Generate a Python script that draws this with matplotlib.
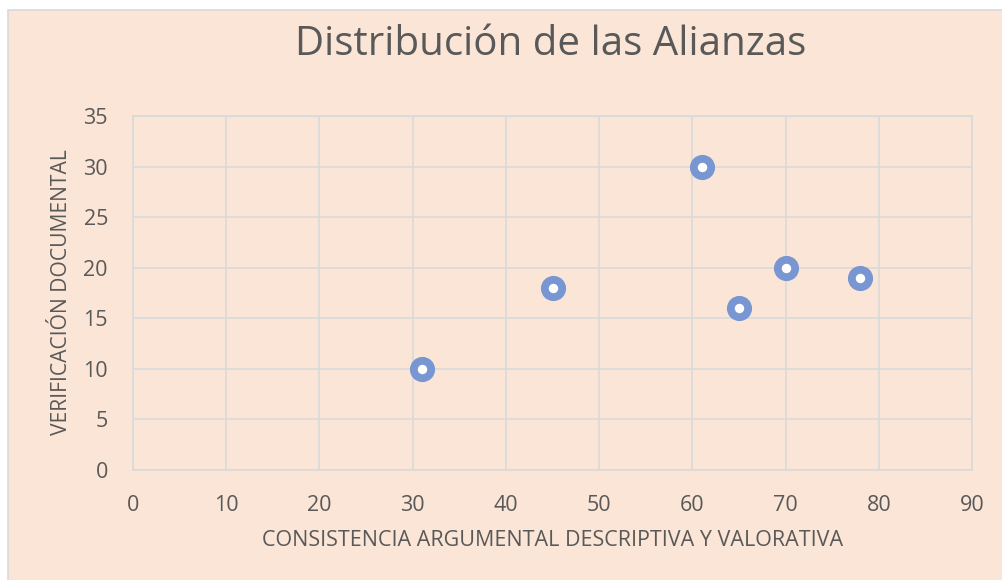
import matplotlib
matplotlib.use("Agg")
import matplotlib.pyplot as plt
from matplotlib.patches import Rectangle

x_vals = [31, 45, 61, 65, 70, 78]
y_vals = [10, 18, 30, 16, 20, 19]
x_ticks = [0, 10, 20, 30, 40, 50, 60, 70, 80, 90]
y_ticks = [0, 5, 10, 15, 20, 25, 30, 35]
title = "Distribución de las Alianzas"
xlabel = "CONSISTENCIA ARGUMENTAL DESCRIPTIVA Y VALORATIVA"
ylabel = "VERIFICACIÓN DOCUMENTAL"

plt.rcParams['font.family'] = ['Open Sans', 'DejaVu Sans']
W, H = 1002, 580
fig = plt.figure(figsize=(W/100, H/100), dpi=100, facecolor='white')
bg = '#FBE5D6'
frame = Rectangle((8/W, -0.1), 1.2, 1.1 - 10/H, transform=fig.transFigure,
                  facecolor=bg, edgecolor='#D9D9D9', linewidth=1.2, zorder=-10)
fig.add_artist(frame)

ax = fig.add_axes([133/W, 1 - 470/H, (972-133)/W, (470-116)/H])
ax.set_zorder(5)
ax.patch.set_alpha(0)
ax.set_xlim(0, 90)
ax.set_ylim(0, 35)
ax.set_xticks(x_ticks)
ax.set_yticks(y_ticks)
ax.grid(True, color='#D9D9D9', linewidth=1.2)
ax.set_axisbelow(True)
for s in ax.spines.values():
    s.set_color('#D9D9D9')
    s.set_linewidth(1.2)
ax.tick_params(axis='both', which='major', length=0, labelsize=15.5,
               labelcolor='#595959', pad=18)

ax.plot(x_vals, y_vals, linestyle='none', marker='o', markersize=12.5,
        markerfacecolor='white', markeredgecolor='#7896D2', markeredgewidth=5.6, zorder=3)

fig.text(551/W, 1 - 45/H, title, ha='center', va='center', fontsize=29, color='#595959', zorder=6)
fig.text(553/W, 1 - 540/H, xlabel, ha='center', va='center', fontsize=15.5, color='#595959', zorder=6)
fig.text(62/W, 1 - 292/H, ylabel, ha='center', va='center', rotation=90, fontsize=15.2, color='#595959', zorder=6)

fig.savefig('out.png', dpi=100, facecolor='white')
